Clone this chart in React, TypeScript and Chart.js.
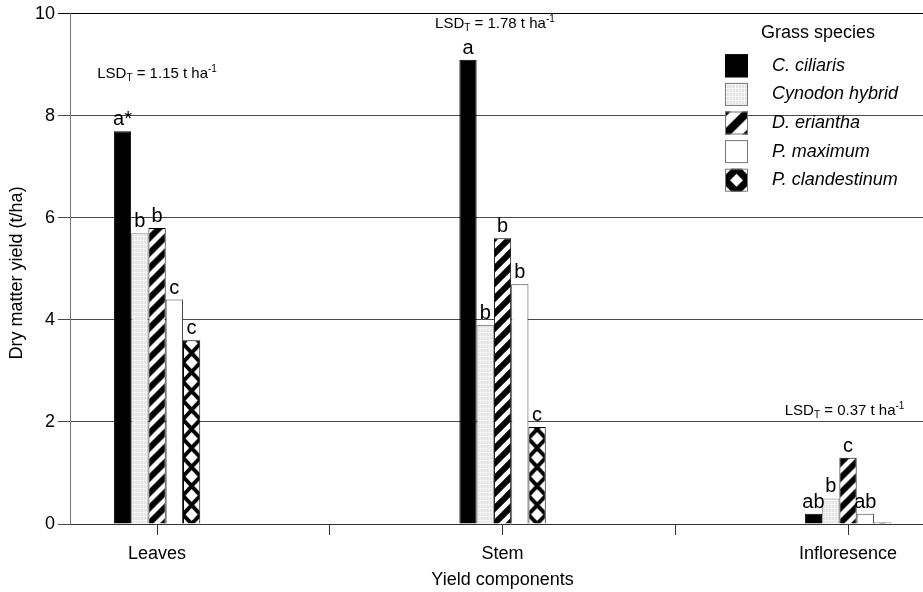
import React, { useEffect, useRef } from 'react';
import { Chart, registerables } from 'chart.js';

Chart.register(...registerables);

// ---- data ----
const categories = ['Leaves', 'Stem', 'Infloresence'];
const species = ['C. ciliaris', 'Cynodon hybrid', 'D. eriantha', 'P. maximum', 'P. clandestinum'];
const cCiliaris = [7.7, 9.1, 0.2];
const cynodonHybrid = [5.7, 3.9, 0.5];
const dEriantha = [5.8, 5.6, 1.3];
const pMaximum = [4.4, 4.7, 0.2];
const pClandestinum = [3.6, 1.9, 0.03];
const cCiliarisSig = ['a*', 'a', 'ab'];
const cynodonSig = ['b', 'b', 'b'];
const dErianthaSig = ['b', 'b', 'c'];
const pMaximumSig = ['c', 'b', 'ab'];
const pClandestinumSig = ['c', 'c', ''];
const lsdValues = ['1.15', '1.78', '0.37'];
const yTickValues = [0, 2, 4, 6, 8, 10];
const xTickValues = [1, 1.5, 2, 2.5, 3];
const legendTitle = 'Grass species';
const xTitle = 'Yield components';
const yTitle = 'Dry matter yield (t/ha)';

const seriesValues = [cCiliaris, cynodonHybrid, dEriantha, pMaximum, pClandestinum];
const seriesSig = [cCiliarisSig, cynodonSig, dErianthaSig, pMaximumSig, pClandestinumSig];

// ---- layout / style ----
const FONT = '"Liberation Sans", Arial, Helvetica, sans-serif';
// Chart.js measures the bar slot from the smallest tick/data spacing (0.5 x-units here)
const CAT_PCT = 0.5;
const LSD_LEVELS = [8.75, 9.73, 2.13];
const LSD_SHIFT = [0, -0.022, -0.01];

function makeTile(w: number, h: number, paint: (g: CanvasRenderingContext2D, w: number, h: number) => void) {
  const c = document.createElement('canvas');
  c.width = w;
  c.height = h;
  const g = c.getContext('2d') as CanvasRenderingContext2D;
  paint(g, w, h);
  return c;
}

function stripeTile(s: number, lw: number) {
  return makeTile(s, s, (g) => {
    g.fillStyle = '#fff';
    g.fillRect(0, 0, s, s);
    g.strokeStyle = '#000';
    g.lineWidth = lw;
    g.beginPath();
    for (const c of [0, s, 2 * s]) {
      g.moveTo(c - s - 3, s + 3);
      g.lineTo(c + 3, -3);
    }
    g.stroke();
  });
}

function diamondTile(w: number, h: number, rw: number, rh: number) {
  return makeTile(w, h, (g) => {
    g.fillStyle = '#000';
    g.fillRect(0, 0, w, h);
    g.fillStyle = '#fff';
    const centers = [[w / 2, h / 2], [0, 0], [w, 0], [0, h], [w, h]];
    for (const [cx, cy] of centers) {
      g.beginPath();
      g.moveTo(cx, cy - rh);
      g.lineTo(cx + rw, cy);
      g.lineTo(cx, cy + rh);
      g.lineTo(cx - rw, cy);
      g.closePath();
      g.fill();
    }
  });
}

function gridTile() {
  return makeTile(3, 4, (g, w, h) => {
    g.fillStyle = '#e3e3e3';
    g.fillRect(0, 0, w, h);
    g.fillStyle = '#f6f6f6';
    g.fillRect(0, 0, 1, h);
    g.fillRect(0, 0, w, 1);
  });
}

function alignedPattern(ctx: any, tile: HTMLCanvasElement, tileW: number) {
  const chart = ctx.chart;
  const p = chart.ctx.createPattern(tile, 'repeat') as CanvasPattern;
  if (ctx.type !== 'data') return p;
  const xs = chart.scales.x;
  const ys = chart.scales.y;
  if (!xs || !ys) return p;
  let slot = Infinity;
  for (let i = 1; i < xTickValues.length; i++) {
    slot = Math.min(slot, Math.abs(xs.getPixelForValue(xTickValues[i]) - xs.getPixelForValue(xTickValues[i - 1])));
  }
  const group = slot * CAT_PCT;
  const bw = group / species.length;
  const left = xs.getPixelForValue(ctx.dataIndex + 1) - group / 2 + ctx.datasetIndex * bw;
  const base = ys.getPixelForValue(0);
  if (isFinite(left) && isFinite(base) && isFinite(bw) && bw > 0) {
    const m = new DOMMatrix().translate(left, base);
    p.setTransform(tileW ? m.scale(bw / tileW, 1) : m);
  }
  return p;
}

function drawLsd(ctx: CanvasRenderingContext2D, cx: number, baseline: number, value: string) {
  const big = `15px ${FONT}`;
  const small = `10px ${FONT}`;
  const parts: [string, string, number][] = [
    ['LSD', big, 0],
    ['T', small, 3],
    [` = ${value} t ha`, big, 0],
    ['-1', small, -6],
  ];
  let total = 0;
  const widths = parts.map(([t, f]) => {
    ctx.font = f;
    const w = ctx.measureText(t).width;
    total += w;
    return w;
  });
  let x = cx - total / 2;
  ctx.textAlign = 'left';
  ctx.textBaseline = 'alphabetic';
  parts.forEach(([t, f, dy], i) => {
    ctx.font = f;
    ctx.fillText(t, x, baseline + dy);
    x += widths[i];
  });
}

export default function App() {
  const ref = useRef<HTMLCanvasElement>(null);

  useEffect(() => {
    const canvas = ref.current;
    if (!canvas) return;

    const cynTile = gridTile();
    const stripe = stripeTile(15, 6);
    const diamond = diamondTile(17, 19, 6, 6.5);
    const legendStripe = stripeTile(23, 8);
    const legendDiamond = diamondTile(23, 23, 6.5, 6.5);

    const fills: any[] = [
      '#000000',
      (c: any) => alignedPattern(c, cynTile, 0),
      (c: any) => alignedPattern(c, stripe, 0),
      '#ffffff',
      (c: any) => alignedPattern(c, diamond, 17),
    ];
    const borders = ['#000000', '#8a8a8a', '#000000', '#444444', '#000000'];

    const overlay = {
      id: 'overlay',
      afterDatasetsDraw(chart: any) {
        const ctx: CanvasRenderingContext2D = chart.ctx;
        const xs = chart.scales.x;
        const ys = chart.scales.y;
        const { top, bottom, right } = chart.chartArea;
        ctx.save();
        ctx.fillStyle = '#000';

        // significance letters
        ctx.font = `20px ${FONT}`;
        ctx.textAlign = 'center';
        ctx.textBaseline = 'alphabetic';
        seriesSig.forEach((arr, di) => {
          const meta = chart.getDatasetMeta(di);
          meta.data.forEach((el: any, i: number) => {
            if (arr[i]) ctx.fillText(arr[i], el.x, el.y - 6);
          });
        });

        // LSD annotations
        lsdValues.forEach((v, i) => {
          drawLsd(ctx, xs.getPixelForValue(i + 1 + LSD_SHIFT[i]), ys.getPixelForValue(LSD_LEVELS[i]), v);
        });

        // legend
        const boxLeft = right - 198;
        ctx.font = `18px ${FONT}`;
        ctx.textAlign = 'center';
        ctx.textBaseline = 'alphabetic';
        ctx.fillText(legendTitle, right - 105, top + 24);
        const legendFills: any[] = ['#000', null, null, '#fff', null];
        species.forEach((name, i) => {
          const by = top + 40.5 + i * 28.6;
          const bs = 23;
          let fill: any = legendFills[i];
          if (i === 1) fill = ctx.createPattern(cynTile, 'repeat');
          if (i === 2) {
            fill = ctx.createPattern(legendStripe, 'repeat');
            fill.setTransform(new DOMMatrix().translate(boxLeft, by));
          }
          if (i === 4) {
            fill = ctx.createPattern(legendDiamond, 'repeat');
            fill.setTransform(new DOMMatrix().translate(boxLeft, by));
          }
          ctx.fillStyle = fill;
          ctx.fillRect(boxLeft, by, bs, bs);
          ctx.strokeStyle = i === 0 ? '#000' : '#777';
          ctx.lineWidth = 1;
          ctx.strokeRect(boxLeft + 0.5, by + 0.5, bs - 1, bs - 1);
          ctx.fillStyle = '#000';
          ctx.font = `italic 18px ${FONT}`;
          ctx.textAlign = 'left';
          ctx.textBaseline = 'middle';
          ctx.fillText(name, boxLeft + 47, by + bs / 2);
        });

        // axis titles
        ctx.font = `18px ${FONT}`;
        ctx.textAlign = 'center';
        ctx.textBaseline = 'alphabetic';
        ctx.fillText(xTitle, xs.getPixelForValue(2), chart.height - 7);
        ctx.save();
        ctx.translate(17, (top + bottom) / 2 + 4);
        ctx.rotate(-Math.PI / 2);
        ctx.textBaseline = 'middle';
        ctx.fillText(yTitle, 0, 0);
        ctx.restore();

        ctx.restore();
      },
    };

    const chart = new Chart(canvas, {
      type: 'bar',
      data: {
        datasets: seriesValues.map((vals, di) => ({
          label: species[di],
          data: vals.map((y, i) => ({ x: i + 1, y })),
          backgroundColor: fills[di],
          borderColor: borders[di],
          borderWidth: 1,
          categoryPercentage: CAT_PCT,
          barPercentage: 1,
        })) as any,
      },
      options: {
        animation: false,
        responsive: true,
        maintainAspectRatio: false,
        layout: { padding: { top: 13, right: 0, left: 0, bottom: 0 } },
        plugins: {
          legend: { display: false },
          tooltip: { enabled: false },
        },
        scales: {
          x: {
            type: 'linear',
            min: 0.748,
            max: 3.217,
            offset: false,
            grid: {
              offset: false,
              drawOnChartArea: false,
              drawTicks: true,
              tickLength: 11,
              color: '#333',
            },
            border: { display: true, color: '#333' },
            ticks: {
              autoSkip: false,
              maxRotation: 0,
              padding: 8,
              color: '#000',
              font: { family: FONT, size: 18 },
              callback: (v: any) => {
                const n = Number(v);
                return Math.abs(n - Math.round(n)) < 1e-6 ? categories[Math.round(n) - 1] : '';
              },
            },
            afterBuildTicks: (s: any) => {
              s.ticks = xTickValues.map((value) => ({ value }));
            },
            afterFit: (s: any) => {
              s.height = 68;
            },
          } as any,
          y: {
            min: 0,
            max: 10,
            ticks: {
              padding: 3,
              color: '#000',
              font: { family: FONT, size: 18 },
            },
            afterBuildTicks: (s: any) => {
              s.ticks = yTickValues.map((value) => ({ value }));
            },
            grid: {
              color: (c: any) => (c.tick && c.tick.value === 10 ? '#000' : '#4a4a4a'),
              tickLength: 12,
            },
            border: { display: true, color: '#777' },
            afterFit: (s: any) => {
              s.width = 70;
            },
          } as any,
        },
      },
      plugins: [overlay],
    });

    return () => chart.destroy();
  }, []);

  return (
    <div style={{ position: 'fixed', left: 0, top: 0, width: 923, height: 592 }}>
      <canvas ref={ref} />
    </div>
  );
}
